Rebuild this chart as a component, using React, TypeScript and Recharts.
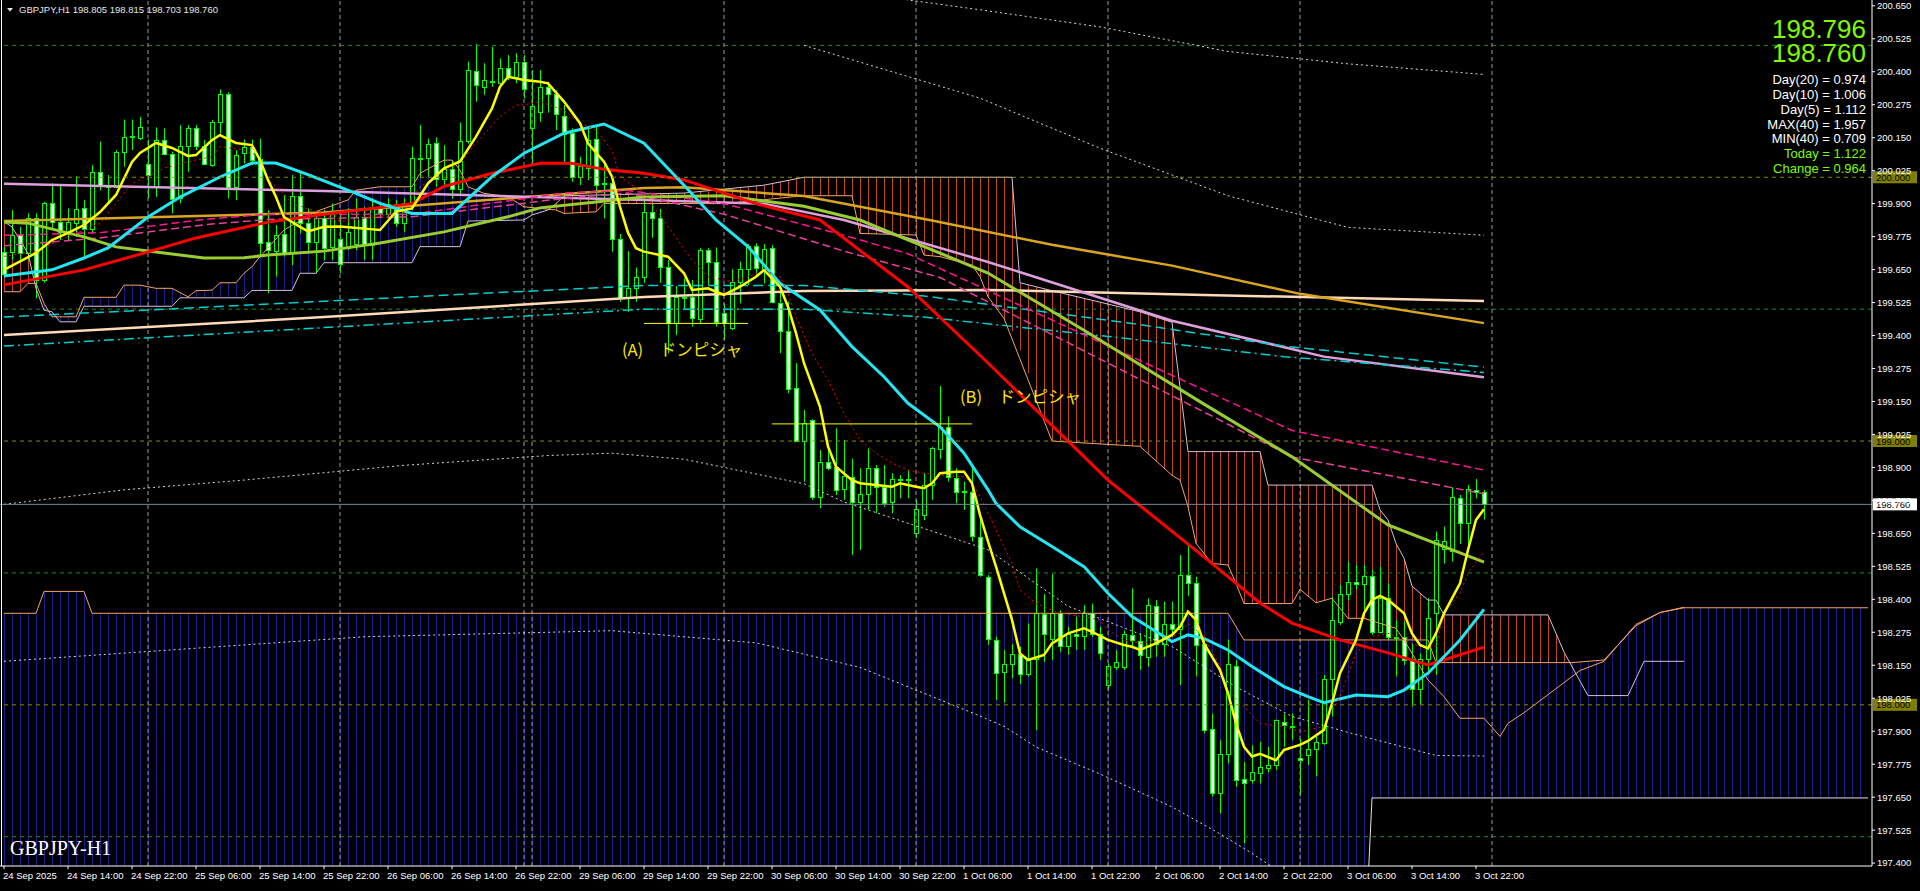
import React from 'react';
import { ComposedChart, Bar, Line, Area, XAxis, YAxis, ReferenceLine } from 'recharts';

const PRICE_MAX = 200.672;
const PRICE_MIN = 197.389;
const SLOTS = 234;

// GBPJPY H1 candles, 24 Sep 06:00 .. 3 Oct 23:00
const opens = [
  199.718, 199.718, 199.781, 199.711, 199.844, 199.610, 199.901, 199.831, 199.793, 199.828,
  199.882, 199.802, 200.021, 199.967, 199.964, 200.094, 200.154, 200.147, 200.049, 199.964,
  200.141, 200.087, 199.920, 200.119, 200.185, 200.119, 200.046, 200.208, 200.314, 199.964,
  200.093, 200.113, 200.069, 199.753, 199.721, 199.785, 199.718, 199.930, 199.825, 199.753,
  199.844, 199.737, 199.765, 199.730, 199.746, 199.848, 199.743, 199.884, 199.860, 199.898,
  199.825, 199.901, 200.072, 200.072, 200.128, 199.992, 200.030, 199.954, 200.137, 200.403,
  200.343, 200.365, 200.358, 200.416, 200.381, 200.438, 200.185, 200.246, 200.341, 200.315,
  200.233, 200.166, 200.002, 200.037, 200.144, 199.980, 199.980, 199.765, 199.541, 199.579,
  199.620, 199.870, 199.845, 199.661, 199.446, 199.545, 199.545, 199.462, 199.724, 199.680,
  199.484, 199.427, 199.604, 199.651, 199.741, 199.651, 199.731, 199.522, 199.417, 199.200,
  199.002, 199.080, 198.789, 198.919, 198.900, 198.817, 198.865, 198.770, 198.798, 198.897,
  198.827, 198.770, 198.855, 198.852, 198.650, 198.720, 198.833, 198.969, 199.052, 198.859,
  198.812, 198.808, 198.637, 198.486, 198.245, 198.125, 198.154, 198.192, 198.117, 198.172,
  198.344, 198.248, 198.349, 198.223, 198.270, 198.262, 198.347, 198.268, 198.075, 198.145,
  198.142, 198.264, 198.243, 198.182, 198.374, 198.230, 198.306, 198.286, 198.492, 198.460,
  198.230, 197.907, 197.664, 197.813, 198.148, 197.718, 197.715, 197.743, 197.759, 197.772,
  197.936, 197.920, 197.797, 197.810, 197.831, 197.857, 198.097, 198.315, 198.419, 198.467,
  198.458, 198.490, 198.277, 198.406, 198.259, 198.256, 198.173, 198.059, 198.173, 198.350,
  198.590, 198.585, 198.783, 198.691, 198.815, 198.805,
];
const highs = [
  199.737, 199.876, 199.812, 199.863, 199.863, 199.907, 199.977, 199.970, 199.882, 200.004,
  199.913, 200.046, 200.135, 200.008, 200.103, 200.219, 200.219, 200.229, 200.143, 200.189,
  200.185, 200.097, 200.198, 200.198, 200.198, 200.141, 200.217, 200.333, 200.322, 200.103,
  200.143, 200.143, 200.147, 199.876, 199.819, 199.932, 200.008, 200.015, 199.882, 199.863,
  199.876, 199.901, 199.869, 199.882, 199.920, 199.888, 199.920, 199.907, 199.920, 199.914,
  199.920, 200.116, 200.198, 200.147, 200.151, 200.122, 200.065, 200.208, 200.438, 200.505,
  200.432, 200.495, 200.451, 200.463, 200.470, 200.463, 200.406, 200.406, 200.362, 200.330,
  200.274, 200.185, 200.078, 200.191, 200.198, 200.046, 200.002, 199.785, 199.720, 199.658,
  199.910, 199.900, 199.880, 199.686, 199.588, 199.617, 199.610, 199.731, 199.731, 199.734,
  199.522, 199.651, 199.680, 199.747, 199.750, 199.747, 199.743, 199.566, 199.528, 199.295,
  199.118, 199.082, 198.966, 198.969, 199.048, 199.004, 198.934, 198.897, 198.972, 198.909,
  198.909, 198.878, 198.871, 198.890, 198.777, 198.878, 198.978, 199.209, 199.093, 198.897,
  198.846, 198.909, 198.726, 198.492, 198.258, 198.208, 198.230, 198.220, 198.309, 198.517,
  198.420, 198.496, 198.359, 198.296, 198.334, 198.378, 198.384, 198.296, 198.157, 198.208,
  198.281, 198.441, 198.271, 198.404, 198.397, 198.391, 198.391, 198.568, 198.602, 198.486,
  198.258, 197.967, 197.866, 198.248, 198.170, 197.784, 197.847, 197.860, 197.841, 197.945,
  197.967, 197.967, 197.873, 198.018, 197.886, 198.113, 198.410, 198.454, 198.543, 198.530,
  198.530, 198.511, 198.524, 198.461, 198.322, 198.315, 198.233, 198.195, 198.404, 198.657,
  198.676, 198.825, 198.795, 198.834, 198.856, 198.815,
];
const lows = [
  199.623, 199.686, 199.686, 199.686, 199.541, 199.600, 199.800, 199.762, 199.762, 199.774,
  199.699, 199.787, 199.951, 199.901, 199.958, 200.040, 200.103, 200.141, 199.920, 199.926,
  200.084, 199.863, 199.901, 200.021, 200.103, 200.046, 200.040, 200.160, 199.920, 199.913,
  200.052, 200.046, 199.705, 199.560, 199.623, 199.699, 199.667, 199.787, 199.711, 199.635,
  199.686, 199.686, 199.636, 199.724, 199.724, 199.686, 199.686, 199.850, 199.850, 199.812,
  199.794, 199.876, 199.996, 200.002, 199.964, 199.964, 199.920, 199.933, 200.128, 200.286,
  200.312, 200.343, 200.343, 200.368, 200.356, 200.299, 200.053, 200.210, 200.245, 200.179,
  200.053, 199.983, 199.970, 199.989, 199.901, 199.844, 199.718, 199.528, 199.490, 199.528,
  199.600, 199.770, 199.600, 199.333, 199.402, 199.497, 199.434, 199.446, 199.592, 199.434,
  199.383, 199.421, 199.522, 199.592, 199.630, 199.598, 199.522, 199.333, 199.181, 198.998,
  198.846, 198.777, 198.745, 198.890, 198.795, 198.777, 198.568, 198.587, 198.739, 198.726,
  198.751, 198.726, 198.783, 198.783, 198.631, 198.700, 198.777, 198.931, 198.846, 198.764,
  198.739, 198.619, 198.486, 198.227, 198.018, 198.008, 198.100, 198.079, 198.107, 197.904,
  198.163, 198.170, 198.201, 198.189, 198.208, 198.208, 198.258, 198.170, 198.056, 198.132,
  198.132, 198.220, 198.132, 198.144, 198.182, 198.182, 198.258, 198.075, 198.412, 198.107,
  197.892, 197.652, 197.588, 197.778, 197.689, 197.475, 197.702, 197.702, 197.743, 197.753,
  197.841, 197.866, 197.658, 197.772, 197.728, 197.848, 197.955, 198.303, 198.397, 198.438,
  198.360, 198.265, 198.271, 198.246, 198.107, 198.151, 197.993, 198.000, 198.119, 198.113,
  198.536, 198.543, 198.610, 198.606, 198.783, 198.703,
];
const closes = [
  199.635, 199.781, 199.711, 199.844, 199.610, 199.901, 199.831, 199.793, 199.831, 199.878,
  199.802, 200.021, 199.967, 199.962, 200.094, 200.154, 200.156, 200.189, 200.008, 200.143,
  200.090, 199.916, 200.119, 200.185, 200.119, 200.052, 200.208, 200.314, 199.964, 200.084,
  200.113, 200.065, 199.749, 199.724, 199.781, 199.714, 199.930, 199.828, 199.753, 199.844,
  199.730, 199.863, 199.670, 199.791, 199.848, 199.743, 199.886, 199.863, 199.898, 199.825,
  199.903, 200.072, 200.070, 200.125, 199.992, 200.030, 199.954, 200.137, 200.406, 200.350,
  200.368, 200.363, 200.413, 200.381, 200.438, 200.333, 200.270, 200.341, 200.314, 200.240,
  200.164, 200.002, 200.042, 200.141, 199.970, 199.978, 199.765, 199.541, 199.579, 199.620,
  199.870, 199.845, 199.661, 199.446, 199.545, 199.542, 199.465, 199.724, 199.680, 199.453,
  199.449, 199.604, 199.651, 199.741, 199.655, 199.727, 199.528, 199.417, 199.196, 199.002,
  199.067, 198.789, 198.922, 198.897, 198.814, 198.868, 198.770, 198.798, 198.897, 198.827,
  198.767, 198.855, 198.852, 198.855, 198.741, 198.833, 198.972, 199.052, 198.865, 198.808,
  198.805, 198.640, 198.492, 198.248, 198.119, 198.154, 198.192, 198.117, 198.172, 198.347,
  198.268, 198.347, 198.223, 198.268, 198.262, 198.347, 198.268, 198.195, 198.147, 198.163,
  198.268, 198.245, 198.189, 198.378, 198.230, 198.306, 198.286, 198.492, 198.460, 198.227,
  197.904, 197.664, 197.813, 198.154, 197.715, 197.705, 197.746, 197.763, 197.772, 197.942,
  197.923, 197.915, 197.791, 197.831, 197.860, 198.097, 198.322, 198.419, 198.467, 198.458,
  198.490, 198.277, 198.404, 198.259, 198.257, 198.170, 198.059, 198.173, 198.328, 198.625,
  198.622, 198.787, 198.691, 198.817, 198.808, 198.760,
];

const xTickIdx = [0, 8, 16, 24, 32, 40, 48, 56, 64, 72, 80, 88, 96, 104, 112, 120, 128, 136, 144, 152, 160, 168, 176, 184];
const xTickLabels = [
  '24 Sep 2025', '24 Sep 14:00', '24 Sep 22:00', '25 Sep 06:00', '25 Sep 14:00', '25 Sep 22:00',
  '26 Sep 06:00', '26 Sep 14:00', '26 Sep 22:00', '29 Sep 06:00', '29 Sep 14:00', '29 Sep 22:00',
  '30 Sep 06:00', '30 Sep 14:00', '30 Sep 22:00', '1 Oct 06:00', '1 Oct 14:00', '1 Oct 22:00',
  '2 Oct 06:00', '2 Oct 14:00', '2 Oct 22:00', '3 Oct 06:00', '3 Oct 14:00', '3 Oct 22:00',
];
const yTicks = [
  197.4, 197.525, 197.65, 197.775, 197.9, 198.025, 198.15, 198.275, 198.4, 198.525, 198.65, 198.775, 198.9, 199.025,
  199.15, 199.275, 199.4, 199.525, 199.65, 199.775, 199.9, 200.025, 200.15, 200.275, 200.4, 200.525, 200.65,
];
const greenLevels = [200.5, 199.5, 198.5, 197.5];
const oliveLevels = [200.0, 199.0, 198.0];
const separators = [18, 42, 65, 66, 90, 114, 138, 162, 186];
const lastPrice = 198.76;

// moving averages, [bar, price]
const yellowPts = [
  [0, 199.649], [4, 199.713], [6, 199.762], [8, 199.789], [10, 199.819], [12, 199.868], [14, 199.933], [16, 200.058],
  [17, 200.092], [19, 200.130], [21, 200.111], [23, 200.081], [24, 200.084], [26, 200.141], [27, 200.160], [29, 200.130],
  [31, 200.122], [32, 200.065], [33, 199.990], [34, 199.925], [35, 199.849], [37, 199.812], [38, 199.795], [40, 199.812],
  [42, 199.813], [47, 199.800], [49, 199.870], [51, 199.882], [53, 199.977], [55, 200.034], [57, 200.060], [59, 200.154],
  [61, 200.261], [62, 200.343], [63, 200.381], [65, 200.369], [67, 200.362], [68, 200.356], [70, 200.287], [72, 200.205],
  [73, 200.129], [75, 200.059], [76, 200.002], [77, 199.888], [78, 199.790], [79, 199.731], [80, 199.718], [83, 199.699],
  [85, 199.636], [86, 199.573], [88, 199.579], [89, 199.566], [90, 199.554], [92, 199.585], [93, 199.604], [94, 199.623],
  [95, 199.648], [97, 199.585], [98, 199.509], [99, 199.409], [100, 199.295], [102, 199.130], [103, 198.979], [104, 198.903],
  [106, 198.852], [107, 198.840], [109, 198.833], [111, 198.827], [112, 198.840], [114, 198.827], [115, 198.821], [116, 198.840],
  [117, 198.878], [119, 198.884], [120, 198.884], [121, 198.840], [122, 198.720], [123, 198.620], [124, 198.524], [126, 198.322],
  [127, 198.195], [128, 198.170], [130, 198.189], [131, 198.233], [133, 198.271], [135, 198.290], [136, 198.277], [138, 198.246],
  [140, 198.227], [141, 198.220], [142, 198.208], [144, 198.233], [146, 198.265], [147, 198.296], [148, 198.353], [149, 198.322],
  [150, 198.233], [152, 198.132], [153, 198.044], [154, 197.930], [155, 197.841], [156, 197.804], [157, 197.814], [159, 197.790],
  [160, 197.829], [162, 197.848], [163, 197.863], [165, 197.905], [166, 198.006], [167, 198.120], [169, 198.246], [170, 198.347],
  [171, 198.398], [172, 198.413], [173, 198.398], [175, 198.347], [176, 198.271], [177, 198.227], [178, 198.214], [179, 198.271],
  [180, 198.347], [182, 198.461], [183, 198.587], [184, 198.701], [185, 198.741],
];
const redDotPts = [
  [0, 199.700], [4, 199.720], [8, 199.775], [12, 199.825], [16, 199.977], [20, 200.034], [23, 200.059], [26, 200.078],
  [27, 200.116], [30, 200.103], [32, 200.078], [33, 199.990], [35, 199.939], [36, 199.901], [40, 199.860], [42, 199.832],
  [47, 199.851], [50, 199.870], [52, 199.964], [55, 200.015], [57, 200.053], [59, 200.129], [62, 200.230], [64, 200.274],
  [65, 200.274], [67, 200.287], [70, 200.255], [72, 200.205], [74, 200.179], [76, 200.103], [77, 200.002], [80, 199.939],
  [83, 199.813], [86, 199.686], [88, 199.623], [91, 199.604], [93, 199.623], [95, 199.648], [97, 199.623], [98, 199.560],
  [99, 199.472], [101, 199.333], [103, 199.231], [105, 199.105], [107, 199.004], [109, 198.954], [111, 198.916], [113, 198.890],
  [115, 198.878], [117, 198.871], [120, 198.865], [121, 198.840], [122, 198.789], [124, 198.663], [126, 198.537], [127, 198.435],
  [129, 198.385], [132, 198.347], [135, 198.334], [137, 198.322], [138, 198.284], [140, 198.246], [142, 198.233], [145, 198.246],
  [147, 198.271], [148, 198.309], [150, 198.259], [152, 198.145], [153, 198.056], [155, 197.993], [157, 197.930], [160, 197.917],
  [162, 197.898], [165, 197.917], [167, 198.031], [169, 198.196], [171, 198.259], [173, 198.271], [175, 198.246], [177, 198.221],
  [179, 198.221], [180, 198.347], [182, 198.423], [183, 198.499], [185, 198.581],
];
const cyanPts = [
  [0, 199.626], [6, 199.649], [10, 199.694], [13, 199.732], [18, 199.849], [22, 199.925], [27, 200.001], [31, 200.054],
  [34, 200.054], [38, 200.010], [44, 199.939], [47, 199.901], [51, 199.863], [56, 199.863], [61, 200.002], [65, 200.091],
  [70, 200.167], [75, 200.202], [80, 200.129], [85, 199.970], [89, 199.838], [93, 199.737], [97, 199.598], [102, 199.497],
  [106, 199.358], [110, 199.244], [113, 199.143], [117, 199.054], [120, 198.954], [123, 198.815], [124, 198.764], [127, 198.675],
  [131, 198.600], [135, 198.524], [138, 198.423], [141, 198.335], [144, 198.278], [146, 198.240], [148, 198.265], [150, 198.252],
  [153, 198.208], [156, 198.145], [160, 198.069], [163, 198.031], [165, 198.008], [169, 198.037], [173, 198.031], [175, 198.056],
  [178, 198.120], [182, 198.246], [185, 198.362],
];
const redPts = [
  [0, 199.592], [10, 199.649], [18, 199.717], [24, 199.770], [33, 199.830], [40, 199.860], [51, 199.900], [55, 199.965],
  [61, 200.015], [67, 200.053], [71, 200.053], [75, 200.030], [80, 200.015], [85, 199.990], [94, 199.900], [102, 199.838],
  [113, 199.584], [123, 199.296], [138, 198.852], [150, 198.561], [157, 198.386], [161, 198.310], [167, 198.246], [173, 198.197],
  [178, 198.151], [185, 198.219],
];
const yellowGreenPts = [
  [0, 199.830], [3, 199.826], [10, 199.774], [14, 199.736], [20, 199.713], [25, 199.694], [30, 199.695], [33, 199.705],
  [40, 199.720], [47, 199.751], [55, 199.793], [63, 199.850], [67, 199.884], [74, 199.906], [80, 199.925], [90, 199.930],
  [100, 199.890], [107, 199.838], [123, 199.637], [135, 199.420], [150, 199.140], [161, 198.940], [173, 198.682], [185, 198.541],
];
const violetPts = [
  [0, 199.975], [40, 199.948], [80, 199.914], [95, 199.900], [105, 199.838], [123, 199.679], [146, 199.456], [165, 199.320], [185, 199.242],
];
const goldPts = [
  [0, 199.834], [40, 199.866], [80, 199.959], [85, 199.962], [100, 199.929], [116, 199.836], [131, 199.744], [146, 199.665],
  [162, 199.558], [185, 199.447],
];
const peachPts = [
  [0, 199.402], [40, 199.470], [80, 199.546], [100, 199.569], [123, 199.573], [150, 199.554], [185, 199.531],
];
const pink1Pts = [
  [0, 199.780], [12, 199.790], [25, 199.840], [33, 199.860], [51, 199.860], [70, 199.940], [78, 199.950], [90, 199.900],
  [105, 199.780], [113, 199.710], [161, 199.040], [185, 198.890],
];
const pink2Pts = [
  [0, 199.740], [12, 199.770], [25, 199.820], [33, 199.840], [51, 199.850], [70, 199.920], [78, 199.940], [90, 199.860],
  [105, 199.720], [117, 199.620], [161, 198.940], [185, 198.800],
];
const cyanDash1Pts = [
  [0, 199.470], [40, 199.530], [80, 199.590], [100, 199.590], [115, 199.550], [140, 199.450], [160, 199.360], [185, 199.280],
];
const cyanDash2Pts = [
  [0, 199.360], [40, 199.430], [80, 199.500], [100, 199.500], [115, 199.470], [140, 199.390], [160, 199.320], [185, 199.260],
];
// bollinger style envelopes (dotted)
const bbUp3Pts = [[105, 200.750], [113, 200.672], [122, 200.635], [137, 200.570], [153, 200.477], [168, 200.430], [185, 200.390]];
const bbUp2Pts = [[100, 200.500], [122, 200.300], [137, 200.110], [153, 199.930], [168, 199.810], [185, 199.780]];
const bbLow2Pts = [
  [0, 198.760], [15, 198.815], [30, 198.852], [50, 198.908], [68, 198.945], [76, 198.954], [85, 198.931], [100, 198.838],
  [105, 198.769], [123, 198.588], [133, 198.374], [146, 198.221], [154, 198.068], [161, 197.956], [169, 197.887], [179, 197.808],
  [185, 197.806],
];
const bbLow3Pts = [
  [0, 198.165], [45, 198.258], [76, 198.281], [94, 198.235], [107, 198.142], [121, 197.970], [125, 197.919], [129, 197.840],
  [137, 197.738], [146, 197.613], [152, 197.511], [156, 197.437], [159, 197.376],
];

// H1 ichimoku: span A / span B, shifted 26 bars ahead
const spanAPts = [
  [0, 199.566], [2, 199.566], [3, 199.598], [4, 199.598], [5, 199.522], [6, 199.471], [9, 199.471], [10, 199.545],
  [14, 199.545], [15, 199.591], [17, 199.591], [19, 199.579], [21, 199.579], [23, 199.547], [24, 199.570], [26, 199.572],
  [27, 199.600], [29, 199.600], [30, 199.636], [31, 199.661], [32, 199.699], [35, 199.800], [39, 199.870], [43, 199.914],
  [44, 199.951], [47, 199.964], [51, 199.964], [52, 200.015], [55, 200.065], [56, 200.065], [57, 200.027], [58, 199.964],
  [60, 199.939], [63, 199.926], [65, 199.888], [69, 199.876], [70, 199.863], [74, 199.869], [75, 199.901], [90, 199.900],
  [100, 199.930], [106, 199.930], [107, 199.787], [114, 199.781], [115, 199.705], [117, 199.699], [121, 199.667], [122, 199.623],
  [123, 199.547], [125, 199.465], [131, 199.000], [142, 198.980], [146, 198.870], [147, 198.852], [148, 198.751], [149, 198.612],
  [151, 198.536], [153, 198.530], [154, 198.460], [155, 198.384], [161, 198.384], [162, 198.438], [164, 198.387], [166, 198.404],
  [168, 198.328], [170, 198.328], [174, 198.290], [175, 198.246], [178, 198.094], [180, 198.031], [182, 197.949], [185, 197.949],
  [187, 197.880], [188, 197.930], [190, 197.970], [197, 198.130], [200, 198.165], [204, 198.305], [207, 198.350], [210, 198.370],
];
const spanBPts = [
  [0, 199.831], [1, 199.812], [3, 199.711], [4, 199.579], [5, 199.496], [6, 199.490], [7, 199.452], [9, 199.452],
  [10, 199.511], [21, 199.511], [22, 199.543], [30, 199.543], [31, 199.571], [36, 199.571], [37, 199.636], [39, 199.636],
  [40, 199.676], [51, 199.676], [52, 199.737], [57, 199.737], [58, 199.834], [65, 199.838], [66, 199.857], [68, 199.876],
  [69, 199.900], [70, 199.930], [85, 199.940], [95, 199.970], [100, 200.000], [126, 200.000], [127, 199.600], [131, 199.570],
  [142, 199.490], [146, 199.450], [148, 198.960], [157, 198.960], [158, 198.833], [171, 198.833], [172, 198.739], [173, 198.701],
  [174, 198.612], [175, 198.556], [176, 198.450], [178, 198.397], [179, 198.397], [180, 198.341], [193, 198.341], [195, 198.200],
  [198, 198.035], [203, 198.035], [205, 198.165], [210, 198.165],
];
// cloud bands [bar, low, high]
const cloudRed1 = [[0, 199.566, 199.831], [1, 199.566, 199.812], [2, 199.566, 199.760], [3, 199.598, 199.711], [4, 199.590, 199.600]];
const cloudBlue1 = [
  [4, 199.579, 199.598], [5, 199.496, 199.522], [6, 199.471, 199.490], [7, 199.452, 199.471], [9, 199.452, 199.471],
  [10, 199.511, 199.545], [14, 199.511, 199.545], [15, 199.511, 199.591], [17, 199.511, 199.591], [19, 199.511, 199.579],
  [21, 199.511, 199.579], [22, 199.543, 199.560], [23, 199.543, 199.547], [24, 199.543, 199.570], [26, 199.543, 199.572],
  [27, 199.543, 199.600], [29, 199.543, 199.600], [30, 199.543, 199.636], [31, 199.571, 199.661], [32, 199.571, 199.699],
  [35, 199.571, 199.800], [36, 199.571, 199.820], [37, 199.636, 199.840], [39, 199.636, 199.870], [40, 199.676, 199.880],
  [43, 199.676, 199.914], [44, 199.676, 199.951], [47, 199.676, 199.964], [51, 199.676, 199.964], [52, 199.737, 200.015],
  [55, 199.737, 200.065], [56, 199.737, 200.065], [57, 199.737, 200.027], [58, 199.834, 199.964], [60, 199.834, 199.939],
  [63, 199.834, 199.926], [65, 199.838, 199.888], [66, 199.857, 199.885], [68, 199.876, 199.880],
];
const cloudRed2 = [
  [69, 199.876, 199.900], [70, 199.863, 199.930], [74, 199.869, 199.930], [75, 199.901, 199.930], [85, 199.900, 199.940],
  [90, 199.900, 199.950], [95, 199.920, 199.970], [100, 199.930, 200.000], [106, 199.930, 200.000], [107, 199.787, 200.000],
  [114, 199.781, 200.000], [115, 199.705, 200.000], [117, 199.699, 200.000], [121, 199.667, 200.000], [122, 199.623, 200.000],
  [123, 199.547, 200.000], [125, 199.465, 200.000], [126, 199.420, 200.000], [127, 199.350, 199.600], [131, 199.000, 199.570],
  [142, 198.980, 199.490], [146, 198.870, 199.450], [147, 198.852, 199.200], [148, 198.751, 198.960], [149, 198.612, 198.960],
  [151, 198.536, 198.960], [153, 198.530, 198.960], [154, 198.460, 198.960], [155, 198.384, 198.960], [157, 198.384, 198.960],
  [158, 198.384, 198.833], [161, 198.384, 198.833], [162, 198.438, 198.833], [164, 198.387, 198.833], [166, 198.404, 198.833],
  [168, 198.328, 198.833], [170, 198.328, 198.833], [171, 198.310, 198.833], [172, 198.300, 198.739], [173, 198.295, 198.701],
  [174, 198.290, 198.612], [175, 198.246, 198.556], [176, 198.190, 198.450], [178, 198.094, 198.397], [179, 198.060, 198.397],
  [180, 198.031, 198.341], [182, 197.949, 198.341], [185, 197.949, 198.341], [187, 197.880, 198.341], [188, 197.930, 198.341],
  [190, 197.970, 198.341], [193, 198.060, 198.341], [195, 198.100, 198.200], [196, 198.110, 198.120],
];
const cloudBlue2 = [
  [197, 198.080, 198.130], [198, 198.035, 198.140], [200, 198.035, 198.165], [203, 198.035, 198.280], [204, 198.100, 198.305],
  [205, 198.165, 198.320], [207, 198.165, 198.350], [210, 198.165, 198.370],
];
// higher timeframe cloud [bar, bottom, top]
const bigCloud = [
  [0, 197.0, 198.347], [4, 197.0, 198.347], [5, 197.0, 198.430], [10, 197.0, 198.430], [11, 197.0, 198.347],
  [153, 197.0, 198.347], [155, 197.0, 198.246], [170, 197.0, 198.246], [171, 197.647, 198.246], [178, 197.647, 198.246],
  [179, 197.647, 198.160], [196, 197.647, 198.160], [200, 197.647, 198.170], [204, 197.647, 198.300], [207, 197.647, 198.350],
  [210, 197.647, 198.368], [233, 197.647, 198.368],
];

const lineStyles = [
  { key: 'bbUp3', pts: bbUp3Pts, color: '#d8d8d8', width: 1, dash: '2 3' },
  { key: 'bbUp2', pts: bbUp2Pts, color: '#d8d8d8', width: 1, dash: '2 3' },
  { key: 'bbLow2', pts: bbLow2Pts, color: '#d8d8d8', width: 1, dash: '2 3' },
  { key: 'bbLow3', pts: bbLow3Pts, color: '#d8d8d8', width: 1, dash: '2 3' },
  { key: 'peach', pts: peachPts, color: '#ffdab9', width: 2.5 },
  { key: 'gold', pts: goldPts, color: '#daa520', width: 2.5 },
  { key: 'violet', pts: violetPts, color: '#dda0dd', width: 2.5 },
  { key: 'cyanDash1', pts: cyanDash1Pts, color: '#00ced1', width: 1.5, dash: '10 5' },
  { key: 'cyanDash2', pts: cyanDash2Pts, color: '#00ced1', width: 1.5, dash: '10 4 2 4' },
  { key: 'pink1', pts: pink1Pts, color: '#ff1493', width: 1.5, dash: '8 4' },
  { key: 'pink2', pts: pink2Pts, color: '#e8409c', width: 1.5, dash: '8 4' },
  { key: 'yellowGreen', pts: yellowGreenPts, color: '#9acd32', width: 3 },
  { key: 'red', pts: redPts, color: '#ff0000', width: 3 },
  { key: 'cyan', pts: cyanPts, color: '#22e6f2', width: 3 },
  { key: 'redDot', pts: redDotPts, color: '#ff0000', width: 1, dash: '2 3' },
  { key: 'yellow', pts: yellowPts, color: '#ffff00', width: 2.5 },
];
const cloudLines = [
  { key: 'spanA', pts: spanAPts, color: '#f4a460' },
  { key: 'spanB', pts: spanBPts, color: '#d8bfd8' },
  { key: 'bigTop', pts: bigCloud.map((r) => [r[0], r[2]]), color: '#f4a460' },
  { key: 'bigBottom', pts: bigCloud.filter((r) => r[0] >= 170).map((r) => [r[0], r[1]]), color: '#e8e0e8' },
];
const bands = [
  { key: 'cr1', rows: cloudRed1, fill: 'url(#hatchRed)' },
  { key: 'cb1', rows: cloudBlue1, fill: 'url(#hatchBlue)' },
  { key: 'cr2', rows: cloudRed2, fill: 'url(#hatchRed)' },
  { key: 'cb2', rows: cloudBlue2, fill: 'url(#hatchBlue)' },
  { key: 'big', rows: bigCloud, fill: 'url(#hatchBlue)' },
];

const data: any[] = Array.from({ length: SLOTS }, (_, i) => ({ i }));
opens.forEach((o, i) => {
  Object.assign(data[i], { o, h: highs[i], l: lows[i], c: closes[i], candle: [lows[i], highs[i]] });
});
[...lineStyles, ...cloudLines].forEach((s) => s.pts.forEach(([i, v]) => { data[i][s.key] = v; }));
bands.forEach((b) => b.rows.forEach(([i, lo, hi]) => { data[i][b.key] = [lo, hi]; }));

const axisFont = 'Liberation Sans, Arial, sans-serif';

const Candle = (props: any) => {
  const { x, y, width, height, payload } = props;
  if (!payload || payload.o == null) return null;
  const { o, c, h, l } = payload;
  const top = Math.min(y, y + height);
  const hgt = Math.abs(height);
  const k = h > l ? hgt / (h - l) : 0;
  const py = (p: number) => top + (h - p) * k;
  const cx = Math.floor(x + width / 2);
  const bTop = Math.round(py(Math.max(o, c)));
  const bBot = Math.round(py(Math.min(o, c)));
  return (
    <g>
      <line x1={cx + 0.5} x2={cx + 0.5} y1={top} y2={top + hgt} stroke="#00ff00" strokeWidth={1} />
      <rect x={cx - 1.5} y={bTop + 0.5} width={4} height={Math.max(bBot - bTop, 1)}
        fill={c > o ? '#000000' : '#ffffff'} stroke="#00ff00" strokeWidth={1} />
    </g>
  );
};

const XTick = (props: any) => {
  const { x, y, payload } = props;
  const n = xTickIdx.indexOf(payload.value);
  return (
    <text x={x - 1} y={y + 8} fill="#ffffff" fontSize={9.5} fontFamily={axisFont} textAnchor="start">
      {n >= 0 ? xTickLabels[n] : ''}
    </text>
  );
};

const YTick = (props: any) => {
  const { x, y, payload } = props;
  return (
    <text x={x} y={y + 3.4} fill="#ffffff" fontSize={9.5} fontFamily={axisFont} textAnchor="start">
      {Number(payload.value).toFixed(3)}
    </text>
  );
};

const PriceTag = (props: any) => {
  const { viewBox, text, bg, fg } = props;
  if (!viewBox) return null;
  const x = viewBox.x + viewBox.width + 1;
  const y = viewBox.y;
  return (
    <g>
      <rect x={x} y={y - 6} width={44} height={12} fill={bg} />
      <text x={x + 3} y={y + 3.5} fill={fg} fontSize={9.5} fontFamily={axisFont}>{text}</text>
    </g>
  );
};

const statLines = [
  { t: 'Day(20) = 0.974', y: 84, c: '#ffffff' },
  { t: 'Day(10) = 1.006', y: 99, c: '#ffffff' },
  { t: 'Day(5) = 1.112', y: 113.5, c: '#ffffff' },
  { t: 'MAX(40) = 1.957', y: 128.5, c: '#ffffff' },
  { t: 'MIN(40) = 0.709', y: 143, c: '#ffffff' },
  { t: 'Today = 1.122', y: 158, c: '#7cfc00' },
  { t: 'Change = 0.964', y: 173, c: '#7cfc00' },
];

export default function App() {
  return (
    <div style={{ position: 'absolute', left: 0, top: 0, width: 1920, height: 891, background: '#000', overflow: 'hidden' }}>
      <ComposedChart width={1920} height={891} data={data} margin={{ top: 0, right: 0, bottom: 0, left: 0 }}>
        <defs>
          <pattern id="hatchBlue" patternUnits="userSpaceOnUse" x={0} y={0} width={8} height={8}>
            <rect x={4} y={0} width={1} height={8} fill="#1c1c96" />
          </pattern>
          <pattern id="hatchRed" patternUnits="userSpaceOnUse" x={0} y={0} width={8} height={8}>
            <rect x={4} y={0} width={1} height={8} fill="#c4452e" />
          </pattern>
        </defs>
        <XAxis dataKey="i" type="category" ticks={xTickIdx} interval={0} tick={<XTick />} tickSize={3} height={25}
          axisLine={{ stroke: '#ffffff' }} tickLine={{ stroke: '#ffffff' }} />
        <YAxis orientation="right" type="number" domain={[PRICE_MIN, PRICE_MAX]} allowDataOverflow ticks={yTicks}
          interval={0} width={48} tickSize={3} tickMargin={2} tick={<YTick />}
          axisLine={{ stroke: '#ffffff' }} tickLine={{ stroke: '#ffffff' }} />

        {bands.map((b) => (
          <Area key={b.key} dataKey={b.key} type="linear" fill={b.fill} fillOpacity={1} stroke="none"
            connectNulls dot={false} activeDot={false} isAnimationActive={false} />
        ))}

        {greenLevels.map((v) => (
          <ReferenceLine key={'g' + v} y={v} stroke="#1e8a1e" strokeDasharray="4 4" />
        ))}
        {separators.map((s) => (
          <ReferenceLine key={'s' + s} x={s} stroke="#9a9a9a" strokeDasharray="4 3" />
        ))}

        {cloudLines.map((s) => (
          <Line key={s.key} dataKey={s.key} type="linear" stroke={s.color} strokeWidth={1}
            connectNulls dot={false} activeDot={false} isAnimationActive={false} />
        ))}
        {lineStyles.map((s) => (
          <Line key={s.key} dataKey={s.key} type="linear" stroke={s.color} strokeWidth={s.width}
            strokeDasharray={s.dash} connectNulls dot={false} activeDot={false} isAnimationActive={false} />
        ))}

        <Bar dataKey="candle" barSize={5} shape={<Candle />} isAnimationActive={false} />

        <ReferenceLine y={lastPrice} stroke="#778899"
          label={<PriceTag text={lastPrice.toFixed(3)} bg="#ffffff" fg="#000000" />} />
        {oliveLevels.map((v) => (
          <ReferenceLine key={'o' + v} y={v} stroke="#8a8a00" strokeDasharray="4 4"
            label={<PriceTag text={v.toFixed(3)} bg="#808000" fg="#000000" />} />
        ))}
        <ReferenceLine segment={[{ x: 80, y: 199.446 }, { x: 93, y: 199.446 }]} stroke="#ffff00" />
        <ReferenceLine segment={[{ x: 96, y: 199.065 }, { x: 121, y: 199.065 }]} stroke="#ffff00" />
      </ComposedChart>

      <svg width={1920} height={891} style={{ position: 'absolute', left: 0, top: 0, pointerEvents: 'none' }}>
        <line x1={1.5} x2={1.5} y1={0} y2={866} stroke="#ffffff" strokeWidth={1} />
        <polygon points="7,8 13,8 10,11.5" fill="#e6e6e6" />
        <text x={19} y={12.7} fill="#e6e6e6" fontSize={9.5} fontFamily={axisFont}>
          GBPJPY,H1  198.805 198.815 198.703 198.760
        </text>
        <text x={1866} y={37.7} fill="#7cfc00" fontSize={26} fontFamily={axisFont} textAnchor="end">198.796</text>
        <text x={1866} y={61.7} fill="#7cfc00" fontSize={26} fontFamily={axisFont} textAnchor="end">198.760</text>
        {statLines.map((s) => (
          <text key={s.t} x={1866} y={s.y} fill={s.c} fontSize={13} fontFamily={axisFont} textAnchor="end">{s.t}</text>
        ))}
        <text x={622} y={356} fill="#ffe600" fontSize={16.5} fontFamily="Noto Sans CJK JP, sans-serif">(A)　ドンピシャ</text>
        <text x={960} y={403} fill="#ffe600" fontSize={16.5} fontFamily="Noto Sans CJK JP, sans-serif">(B)　ドンピシャ</text>
        <text x={10} y={855} fill="#ffffff" fontSize={20} fontFamily="Liberation Serif, Times New Roman, serif">GBPJPY-H1</text>
      </svg>
    </div>
  );
}
